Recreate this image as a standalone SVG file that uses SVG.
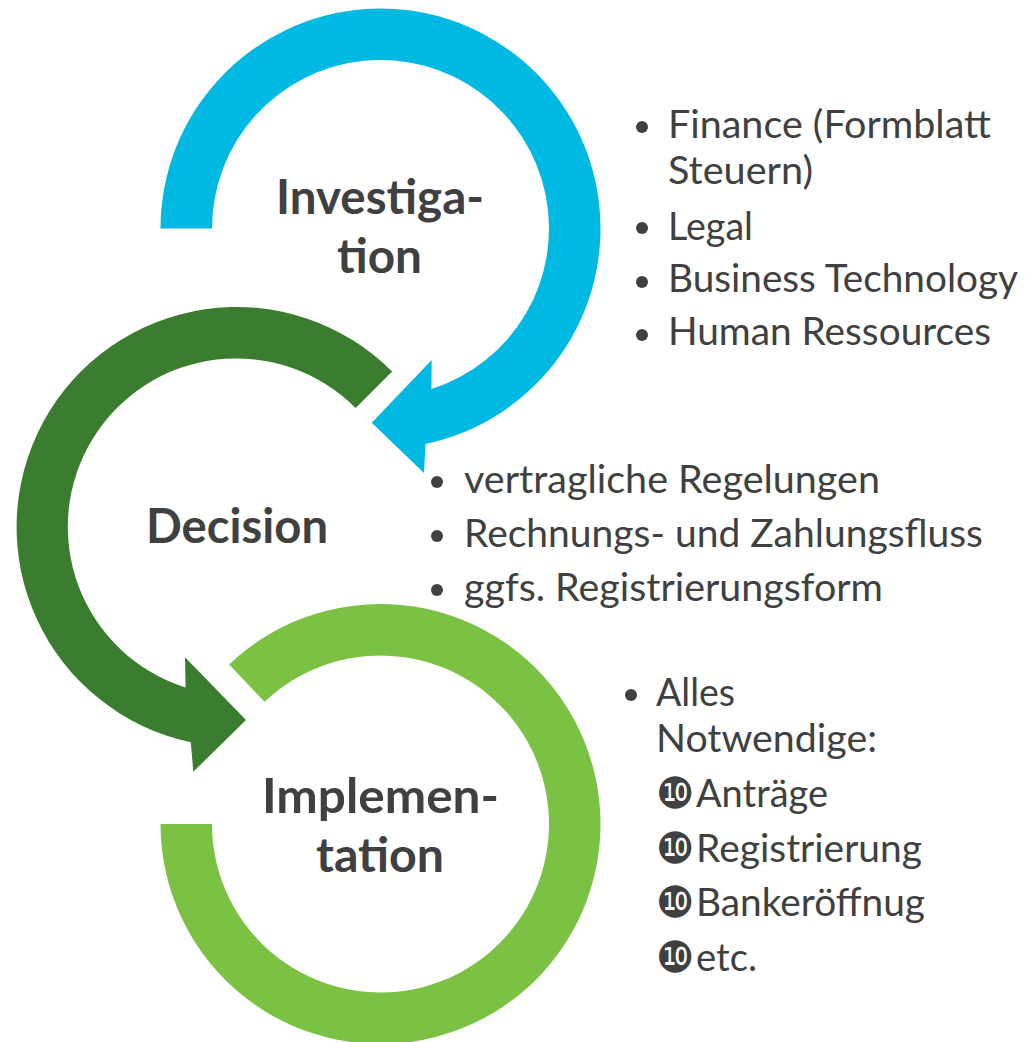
<svg xmlns="http://www.w3.org/2000/svg" width="1026" height="1042" viewBox="0 0 1026 1042">
<style>
.title{font-family:Lato,"Open Sans","Liberation Sans",sans-serif;font-weight:700;font-size:47px;fill:#404040}
.item{font-family:Lato,"Open Sans","Liberation Sans",sans-serif;font-size:38px;fill:#404040}
.dg{font-family:"DejaVu Sans",sans-serif;font-size:43px;fill:#404040}
.bul{fill:#404040}
</style>
<rect width="1026" height="1042" fill="#ffffff"/>
<g id="node-investigation">
<path fill="#00B9E3" d="M 160.5 228.5 A 220 220 0 1 1 425.5 443.9 L 424 473 L 371.7 422.7 L 431.7 360 L 431.4 389.1 A 168.5 168.5 0 1 0 212 228.5 Z"/>
<text class="title" x="276" y="214" textLength="208" lengthAdjust="spacingAndGlyphs">Investiga-</text>
<text class="title" x="337" y="273" textLength="85" lengthAdjust="spacingAndGlyphs">tion</text>
</g>
<g id="node-decision">
<path fill="#3B7D2F" d="M 392.1 371.4 A 220 220 0 1 0 190.8 742.2 L 193.3 771.7 L 246 720 L 185 657.3 L 185.6 687.6 A 168.5 168.5 0 1 1 355.6 407.9 Z"/>
<text class="title" x="146" y="543" textLength="182" lengthAdjust="spacingAndGlyphs">Decision</text>
</g>
<g id="node-implementation">
<path fill="#7BC143" d="M 229.1 664.4 A 220 220 0 1 1 160.5 824 L 212 824 A 168.5 168.5 0 1 0 264.5 701.8 Z"/>
<text class="title" x="262" y="813" textLength="237" lengthAdjust="spacingAndGlyphs">Implemen-</text>
<text class="title" x="316" y="872" textLength="128" lengthAdjust="spacingAndGlyphs">tation</text>
</g>
<g id="list-investigation">
<circle class="bul" cx="642" cy="127" r="6"/>
<circle class="bul" cx="642" cy="228" r="6"/>
<circle class="bul" cx="642" cy="282" r="6"/>
<circle class="bul" cx="642" cy="335" r="6"/>
<text class="item" x="668" y="138" textLength="323" lengthAdjust="spacingAndGlyphs">Finance (Formblatt</text>
<text class="item" x="668" y="184" textLength="145" lengthAdjust="spacingAndGlyphs">Steuern)</text>
<text class="item" x="668" y="240" textLength="85" lengthAdjust="spacingAndGlyphs">Legal</text>
<text class="item" x="668" y="292" textLength="350" lengthAdjust="spacingAndGlyphs">Business Technology</text>
<text class="item" x="668" y="345" textLength="323" lengthAdjust="spacingAndGlyphs">Human Ressources</text>
</g>
<g id="list-decision">
<circle class="bul" cx="437" cy="482" r="6"/>
<circle class="bul" cx="437" cy="536" r="6"/>
<circle class="bul" cx="437" cy="590" r="6"/>
<text class="item" x="464" y="493" textLength="416" lengthAdjust="spacingAndGlyphs">vertragliche Regelungen</text>
<text class="item" x="464" y="547" textLength="519" lengthAdjust="spacingAndGlyphs">Rechnungs- und Zahlungsfluss</text>
<text class="item" x="464" y="601" textLength="419" lengthAdjust="spacingAndGlyphs">ggfs. Registrierungsform</text>
</g>
<g id="list-implementation">
<circle class="bul" cx="631" cy="695" r="6"/>
<text class="item" x="656" y="706" textLength="79" lengthAdjust="spacingAndGlyphs">Alles</text>
<text class="item" x="656" y="752" textLength="221" lengthAdjust="spacingAndGlyphs">Notwendige:</text>
<text y="808"><tspan class="dg" x="656">❿</tspan><tspan class="item" x="696" y="807" textLength="132" lengthAdjust="spacingAndGlyphs">Anträge</tspan></text>
<text y="863"><tspan class="dg" x="656">❿</tspan><tspan class="item" x="696" y="862" textLength="226" lengthAdjust="spacingAndGlyphs">Registrierung</tspan></text>
<text y="917"><tspan class="dg" x="656">❿</tspan><tspan class="item" x="696" y="916" textLength="229" lengthAdjust="spacingAndGlyphs">Bankeröffnug</tspan></text>
<text y="972"><tspan class="dg" x="656">❿</tspan><tspan class="item" x="696" y="971" textLength="61" lengthAdjust="spacingAndGlyphs">etc.</tspan></text>
</g>
</svg>
